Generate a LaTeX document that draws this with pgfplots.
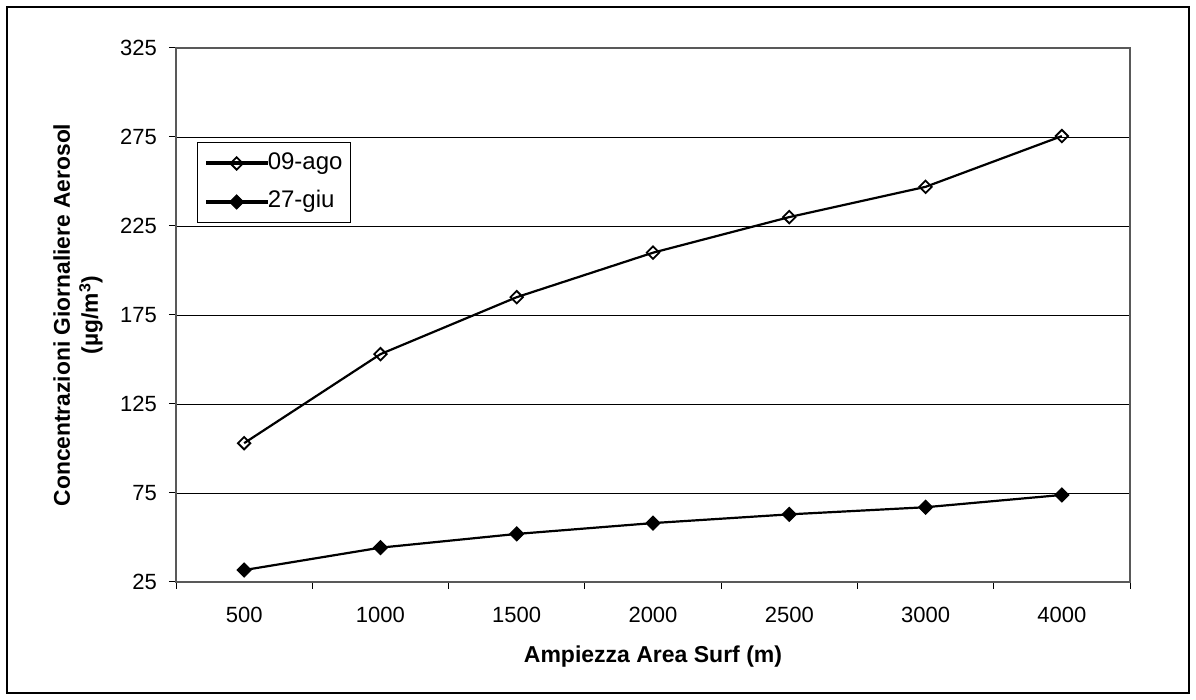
\documentclass[border=0pt]{standalone}
\usepackage{fontspec}
\setmainfont{Liberation Sans}
\usepackage{pgfplots}
\pgfplotsset{compat=1.18}
\begin{document}
\begin{tikzpicture}[x=1pt,y=1pt]
\fontsize{22}{26}\selectfont
\path[use as bounding box] (0,0) rectangle (1196,700);
\draw[black, line width=1.5pt] (7,7) rectangle (1189,693);
\begin{axis}[
  at={(176pt,118pt)}, anchor=south west,
  scale only axis, width=954pt, height=534pt,
  xmin=-0.5, xmax=6.5, ymin=25, ymax=325,
  tick pos=left, tick align=outside,
  xtick={-0.5,0.5,...,6.5}, xticklabels={},
  extra x ticks={0,1,2,3,4,5,6},
  extra x tick labels={500,1000,1500,2000,2500,3000,4000},
  extra x tick style={major tick length=0pt},
  ytick={25,75,...,325},
  major tick length=7pt,
  tick style={black, line width=1pt},
  ymajorgrids, grid style={black, line width=0.9pt},
  axis line style={gray!70!black, line width=1.5pt},
  /pgf/number format/assume math mode=true,
  yticklabel style={font=\fontsize{22}{26}\selectfont, inner sep=0pt, anchor=east, xshift=-12pt},
  xticklabel style={font=\fontsize{22}{26}\selectfont, inner sep=0pt, anchor=north, yshift=-25pt},
  ylabel={\textbf{Concentrazioni Giornaliere Aerosol}\\\textbf{(µg/m\textsuperscript{3})}},
  ylabel style={font=\fontsize{22.8}{28}\selectfont, align=center, at={(axis description cs:-0.1027,0.5)}, anchor=center, rotate=0},
  xlabel={\textbf{Ampiezza Area Surf (m)}},
  xlabel style={font=\fontsize{23}{26}\selectfont, at={(axis description cs:0.5,-0.1404)}, anchor=center},
  legend style={at={(0.0221,0.824)}, anchor=north west, draw=black, line width=1pt,
    font=\fontsize{24}{28}\selectfont, inner xsep=8pt, inner ysep=10pt, row sep=16.5pt,
    nodes={inner sep=0pt, text height=17pt, text depth=5pt},
    /tikz/every even column/.append style={column sep=3pt}},
  legend cell align=left,
  legend image code/.code={
    \fill[black] (0pt,-0.9pt) rectangle (60pt,0.9pt);
    \draw[#1, only marks] plot coordinates {(30pt,0pt)};},
]
\addplot[black, line width=2.2pt, mark=square, mark size=4.4pt,
  mark options={rotate=45, fill=white, line width=1.8pt}]
  coordinates {(0,103) (1,153) (2,185) (3,210) (4,230) (5,247) (6,275.5)};
\addlegendentry{09-ago\hspace{6pt}}
\addplot[black, line width=2.2pt, mark=square*, mark size=5pt,
  mark options={rotate=45, fill=black, line width=1pt}]
  coordinates {(0,31.7) (1,44.3) (2,52) (3,58.1) (4,63) (5,67) (6,73.9)};
\addlegendentry{27-giu}
\end{axis}
\end{tikzpicture}
\end{document}
